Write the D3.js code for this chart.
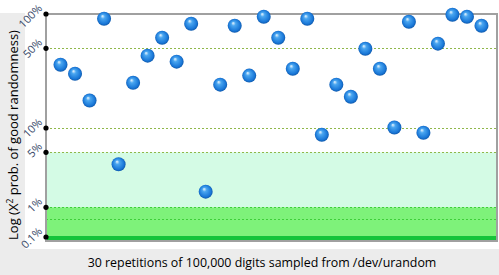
<!DOCTYPE html>
<html>
<head>
<meta charset="utf-8">
<script src="https://cdn.jsdelivr.net/npm/d3@7"></script>
<style>
  body { margin: 0; background: #ececec; }
  svg { display: block; font-family: "Open Sans", "Noto Sans", sans-serif; }
</style>
</head>
<body>
<script>
// Set up size
var width = 499;
var height = 275;

// chi-square probabilities (%) for each of the 30 runs
var runs = d3.range(1, 31);
var probs = [35.9, 29.9, 17.4, 90.9, 3.52, 24.9, 43.1, 61.9, 38.2, 82.2,
             1.58, 24.0, 78.9, 28.8, 94.7, 61.9, 33.1, 90.9, 8.26, 24.0,
             18.8, 49.6, 33.1, 10.1, 85.6, 8.74, 54.9, 98.6, 94.7, 78.9];

// axis ticks and gridlines
var tickValues = [100, 50, 10, 5, 1, 0.1];
var tickLabels = ["100%", "50%", "10%", "5%", "1%", "0.1%"];
var gridValues = [50, 10, 5, 0.4];

// the axis is log-ish, but stretched differently per region
var yKnots = [0.1, 1, 5, 10, 50, 100];

var plot = {left: 46, right: 497, top: 14, bottom: 241};

var svg = d3.select('body').append('svg')
  .attr('width', width)
  .attr('height', height);

// background panels
svg.append('rect').attr('x', 0).attr('y', 0).attr('width', width).attr('height', height).attr('fill', '#ececec');
svg.append('rect').attr('x', 25).attr('y', 0).attr('width', width - 25).attr('height', 249).attr('fill', '#fff');
svg.append('rect').attr('x', 0).attr('y', 0).attr('width', 25).attr('height', 13).attr('fill', '#fff');

var x = d3.scalePoint()
  .domain(runs)
  .range([plot.left, plot.right - 1])
  .padding(1);

// piecewise on log10(p)
var yLog = d3.scaleLinear()
  .domain(yKnots.map(Math.log10))
  .range([237, 207.3, 152.3, 128, 48.3, 14]);
function y(p) { return yLog(Math.log10(p)); }

// coloured bands
svg.append('rect')
  .attr('x', plot.left).attr('width', plot.right - plot.left)
  .attr('y', y(5)).attr('height', y(1) - y(5))
  .attr('fill', '#d4fbe5');
svg.append('rect')
  .attr('x', plot.left).attr('width', plot.right - plot.left)
  .attr('y', y(1)).attr('height', y(0.1) - y(1))
  .attr('fill', '#7ef27a');
svg.append('rect')
  .attr('x', plot.left).attr('width', plot.right - plot.left)
  .attr('y', y(0.1) - 1).attr('height', plot.bottom - y(0.1) + 1)
  .attr('fill', '#14c43a');

// gridlines
svg.selectAll('line.grid')
  .data(gridValues)
  .enter()
  .append('line')
  .attr('class', 'grid')
  .attr('x1', plot.left).attr('x2', plot.right)
  .attr('y1', function (d) { return Math.round(y(d)) + 0.5; })
  .attr('y2', function (d) { return Math.round(y(d)) + 0.5; })
  .attr('stroke', function (d) { return d < 1 ? '#3fcf3a' : '#8fb84a'; })
  .attr('stroke-dasharray', '2,2');
svg.append('line')
  .attr('x1', plot.left).attr('x2', plot.right)
  .attr('y1', Math.round(y(1)) + 0.5).attr('y2', Math.round(y(1)) + 0.5)
  .attr('stroke', '#3fcf3a').attr('stroke-dasharray', '2,2');

// frame
svg.append('rect')
  .attr('x', plot.left).attr('y', plot.top)
  .attr('width', plot.right - plot.left).attr('height', plot.bottom - plot.top)
  .attr('fill', 'none').attr('stroke', '#a0a0a0').attr('stroke-width', 2);

// tick dots + labels
svg.selectAll('circle.tick')
  .data(tickValues)
  .enter()
  .append('circle')
  .attr('class', 'tick')
  .attr('cx', plot.left)
  .attr('cy', function (d) { return y(d); })
  .attr('r', 2.6)
  .attr('fill', '#000');

svg.selectAll('text.tick')
  .data(tickValues)
  .enter()
  .append('text')
  .attr('class', 'tick')
  .attr('transform', function (d) { return 'translate(' + (plot.left - 3) + ',' + (y(d) - 5) + ') rotate(-45)'; })
  .attr('text-anchor', 'end')
  .attr('font-size', 11)
  .attr('fill', '#3a4a6a')
  .text(function (d, i) { return tickLabels[i]; });

// sphere gradient
var grad = svg.append('defs').append('radialGradient')
  .attr('id', 'ball')
  .attr('cx', '50%').attr('cy', '50%').attr('r', '55%')
  .attr('fx', '38%').attr('fy', '30%');
grad.append('stop').attr('offset', '0%').attr('stop-color', '#eef8ff');
grad.append('stop').attr('offset', '28%').attr('stop-color', '#4aa6f0');
grad.append('stop').attr('offset', '75%').attr('stop-color', '#1a78d8');
grad.append('stop').attr('offset', '100%').attr('stop-color', '#0b4f9e');

svg.selectAll('circle.pt')
  .data(probs)
  .enter()
  .append('circle')
  .attr('class', 'pt')
  .attr('cx', function (d, i) { return x(runs[i]); })
  .attr('cy', function (d) { return y(d); })
  .attr('r', 7)
  .attr('fill', 'url(#ball)');

// axis titles
var ylab = svg.append('text')
  .attr('transform', 'translate(18,135) rotate(-90)')
  .attr('text-anchor', 'middle')
  .attr('font-size', 13)
  .attr('fill', '#000');
ylab.append('tspan').text('Log (X');
ylab.append('tspan').attr('font-size', 8.5).attr('dy', -5).text('2');
ylab.append('tspan').attr('dy', 5).text(' prob. of good randomness)');

svg.append('text')
  .attr('x', 262).attr('y', 267)
  .attr('text-anchor', 'middle')
  .attr('font-size', 12.4)
  .attr('fill', '#000')
  .text('30 repetitions of 100,000 digits sampled from /dev/urandom');
</script>
</body>
</html>
